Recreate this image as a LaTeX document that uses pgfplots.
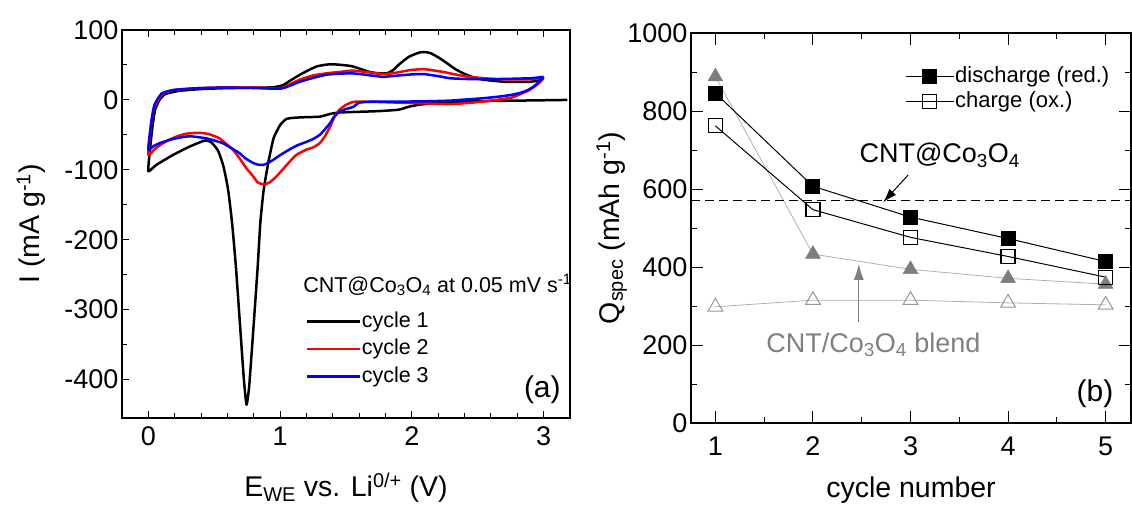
\documentclass[border=0pt]{standalone}
\usepackage{fontspec}
\setmainfont{Liberation Sans}
\usepackage{pgfplots}
\pgfplotsset{compat=1.18}
\usetikzlibrary{arrows.meta}
\definecolor{myred}{RGB}{255,0,0}
\definecolor{myblue}{RGB}{0,0,255}
\definecolor{trigray}{RGB}{125,125,125}
\definecolor{opengray}{RGB}{150,150,150}
\definecolor{linegray}{RGB}{175,175,175}
\definecolor{txtgray}{RGB}{128,128,128}
\newcommand{\ticksize}{\fontsize{27}{32}\selectfont}
\newcommand{\labsize}{\fontsize{28.5}{34}\selectfont}
\begin{document}
\begin{tikzpicture}
\useasboundingbox (0pt,0pt) rectangle (1132pt,-504pt);
% ---------------- (a) ----------------
\begin{axis}[
  at={(122pt,-418pt)}, anchor=south west,
  scale only axis, width=448pt, height=388pt,
  xmin=-0.2, xmax=3.2, ymin=-455, ymax=100,
  xtick={0,1,2,3}, minor x tick num=4,
  ytick={-400,-300,-200,-100,0,100}, minor y tick num=1,
  xtick pos=both, xticklabel pos=lower, ytick pos=left,
  tick align=inside,
  major tick length=7pt, minor tick length=5pt,
  every tick/.style={black, line width=1pt},
  axis line style={line width=1.3pt},
  tick label style={font=\ticksize},
  /pgf/number format/assume math mode=true,
  xticklabel style={yshift=-5pt},
  xlabel={E\textsubscript{WE} vs. Li\textsuperscript{0/+} (V)},
  ylabel={I (mA g\textsuperscript{-1})},
  every axis x label/.style={at={(axis description cs:0.5,-0.203)}, anchor=base, font=\labsize},
  every axis y label/.style={at={(axis description cs:-0.203,0.5)}, rotate=90, anchor=center, font=\labsize},
  legend style={at={(axis description cs:0.402,0.2835)}, anchor=north west, draw=none, fill=none,
    font=\fontsize{21.5}{25}\selectfont, row sep=4.5pt,
    nodes={inner sep=1pt, text height=16pt, text depth=5pt}},
  legend cell align=left,
  legend image code/.code={\draw[#1] (0pt,0pt) -- (53pt,0pt);},
  legend image post style={line width=2.5pt},
]
\addplot[black, line width=2.5pt, line join=round, smooth, tension=0.3] coordinates {
(3.18,0) (3.0,-0.5) (2.8,-1) (2.6,-1.5) (2.45,-2) (2.3,-3) (2.15,-5) (2.05,-7) (1.97,-10)
(1.9,-14) (1.75,-16) (1.6,-17) (1.45,-18) (1.38,-20) (1.3,-24) (1.15,-25) (1.05,-27)
(1.0,-36) (0.95,-55) (0.91,-90) (0.875,-129) (0.85,-175) (0.83,-238) (0.795,-333)
(0.765,-410) (0.745,-436) (0.725,-400) (0.695,-320) (0.665,-240) (0.635,-175) (0.605,-128)
(0.57,-95) (0.53,-73) (0.48,-61) (0.43,-58) (0.31,-67) (0.185,-79) (0.06,-93) (0.0,-102)
(0.01,-75) (0.03,-40) (0.05,-15) (0.084,0) (0.13,8.6) (0.236,13) (0.4,15.5) (0.565,16.7) (0.8,17.5)
(0.945,18) (1.02,21) (1.08,28) (1.15,36) (1.22,43) (1.28,48) (1.35,50.5) (1.40,51)
(1.47,50) (1.55,48) (1.68,40) (1.75,38) (1.81,38) (1.86,43) (1.91,52) (1.98,62)
(2.06,68) (2.1,68.5) (2.14,67) (2.2,61) (2.27,52) (2.33,44) (2.39,38) (2.47,32)
(2.54,29) (2.7,26) (2.9,26) (2.99,29)
};
\addlegendentry{cycle 1}
\addplot[myred, line width=2.5pt, line join=round, smooth, tension=0.3] coordinates {
(3.0,31) (2.97,25) (2.93,19) (2.88,13) (2.82,8) (2.75,3) (2.6,-1) (2.45,-4) (2.29,-6)
(2.1,-5) (1.91,-4) (1.75,-3) (1.6,-2.4) (1.55,-3) (1.5,-7) (1.45,-14) (1.41,-25)
(1.38,-38) (1.34,-52) (1.30,-62) (1.25,-68) (1.20,-71) (1.12,-79) (1.05,-93) (0.97,-110)
(0.92,-118) (0.88,-121) (0.83,-118) (0.79,-108) (0.745,-98) (0.69,-83) (0.64,-71)
(0.54,-55) (0.46,-49) (0.39,-47) (0.3,-48) (0.236,-51) (0.17,-56) (0.11,-62) (0.05,-70)
(0.0,-79)
(0.01,-55) (0.025,-30) (0.046,-10) (0.1,7) (0.185,14) (0.35,16.5) (0.565,18) (0.8,17.5) (1.0,16.7)
(1.07,22) (1.15,29) (1.25,35) (1.35,38) (1.45,40) (1.55,42) (1.65,40) (1.78,37) (1.85,38)
(1.91,40) (2.0,43) (2.09,44) (2.17,42) (2.24,40) (2.34,36) (2.44,33) (2.55,31) (2.67,29.6)
(2.9,29.6) (3.0,31)
};
\addlegendentry{cycle 2}
\addplot[myblue, line width=2.5pt, line join=round, smooth, tension=0.3] coordinates {
(3.0,33) (2.97,27) (2.93,20) (2.88,14) (2.82,10) (2.75,7) (2.65,4.5) (2.54,2.4) (2.4,0.5)
(2.29,-1) (2.1,-2) (1.91,-2.4) (1.7,-2.4) (1.6,-4) (1.555,-10) (1.5,-13) (1.45,-17)
(1.41,-24) (1.38,-33) (1.34,-42) (1.30,-50) (1.25,-56) (1.20,-60) (1.13,-65) (1.07,-71)
(1.0,-79) (0.946,-86) (0.9,-91) (0.87,-93) (0.83,-92.5) (0.794,-90) (0.74,-84) (0.69,-76)
(0.63,-69) (0.566,-62) (0.5,-58) (0.44,-55) (0.37,-53) (0.31,-52) (0.25,-53.5) (0.185,-56)
(0.13,-59) (0.084,-62) (0.04,-66) (0.0,-71)
(0.01,-50) (0.025,-28) (0.046,-7) (0.1,9) (0.185,14) (0.35,16.5) (0.565,17.6) (0.8,17) (1.0,16)
(1.07,20) (1.15,26) (1.25,31.5) (1.35,36) (1.45,37.5) (1.55,38) (1.65,36) (1.78,33)
(1.9,35) (2.0,36.5) (2.09,37) (2.2,34) (2.29,31) (2.4,30) (2.54,29.6) (2.7,30) (2.9,31)
(3.0,33)
};
\addlegendentry{cycle 3}
\node[anchor=base west, font=\fontsize{21.5}{25}\selectfont] at (axis cs:1.149,-275)
  {CNT@Co\textsubscript{3}O\textsubscript{4} at 0.05 mV s\textsuperscript{-1}};
\node[anchor=base, font=\fontsize{30}{36}\selectfont] at (axis cs:2.99,-426) {(a)};
\end{axis}
% ---------------- (b) ----------------
\begin{axis}[
  at={(691pt,-423pt)}, anchor=south west,
  scale only axis, width=440pt, height=390pt,
  xmin=0.75, xmax=5.26, ymin=0, ymax=1000,
  xtick={1,2,3,4,5}, minor x tick num=1,
  ytick={0,200,400,600,800,1000}, minor y tick num=1,
  tick pos=both, xticklabel pos=lower, yticklabel pos=left,
  tick align=inside,
  major tick length=12pt, minor tick length=6pt,
  every tick/.style={black, line width=1pt},
  axis line style={line width=1.3pt},
  tick label style={font=\ticksize},
  /pgf/number format/assume math mode=true,
  /pgf/number format/1000 sep={},
  xticklabel style={yshift=-10pt},
  xlabel={cycle number},
  ylabel={Q\textsubscript{spec} (mAh g\textsuperscript{-1})},
  every axis x label/.style={at={(axis description cs:0.5,-0.19)}, anchor=base, font=\labsize},
  every axis y label/.style={at={(axis description cs:-0.18,0.5)}, rotate=90, anchor=center, font=\labsize},
  legend style={at={(axis description cs:0.4795,0.923)}, anchor=north west, draw=none, fill=none,
    font=\fontsize{22}{26}\selectfont, row sep=2pt,
    nodes={inner sep=1pt, text height=16pt, text depth=5pt}},
  legend cell align=left,
  legend image code/.code={\draw[mark repeat=2,mark phase=2,#1] plot coordinates {(0pt,0pt)(24pt,0pt)(48pt,0pt)};},
]
\addplot[linegray, line width=0.8pt, mark=triangle*, mark size=8.5pt,
  mark options={fill=trigray, draw=trigray, line width=0.5pt}, forget plot]
  coordinates {(1,888)(2,433)(3,394)(4,371)(5,356)};
\addplot[linegray, line width=0.8pt, mark=triangle, mark size=8.5pt,
  mark options={fill=white, draw=opengray, line width=1pt}, forget plot]
  coordinates {(1,298)(2,315)(3,315)(4,308)(5,303)};
\addplot[black, line width=1pt, dash pattern=on 9pt off 5pt, forget plot]
  coordinates {(0.75,570)(5.26,570)};
\addplot[black, line width=1pt, mark=square*, mark size=7pt, mark options={fill=black, solid}]
  coordinates {(1,846)(2,607)(3,528)(4,473)(5,414)};
\addlegendentry{discharge (red.)}
\addplot[black, line width=1pt, mark=square, mark size=7pt, mark options={fill=white, solid, line width=1.2pt}]
  coordinates {(1,762)(2,547)(3,476)(4,427)(5,374)};
\addlegendentry{charge (ox.)}
\draw[black, line width=1pt, -{Latex[length=14pt,width=9pt]}] (axis cs:2.976,636) -- (axis cs:2.72,566);
\draw[txtgray, line width=1pt, -{Latex[length=16pt,width=10pt]}] (axis cs:2.47,259) -- (axis cs:2.47,408);
\node[anchor=base, font=\fontsize{27}{32}\selectfont] at (axis cs:3.30,667) {CNT@Co\textsubscript{3}O\textsubscript{4}};
\node[anchor=base, text=txtgray, font=\fontsize{27}{32}\selectfont] at (axis cs:2.62,182) {CNT/Co\textsubscript{3}O\textsubscript{4} blend};
\node[anchor=base, font=\fontsize{30}{36}\selectfont] at (axis cs:4.89,54) {(b)};
\end{axis}
\end{tikzpicture}
\end{document}
